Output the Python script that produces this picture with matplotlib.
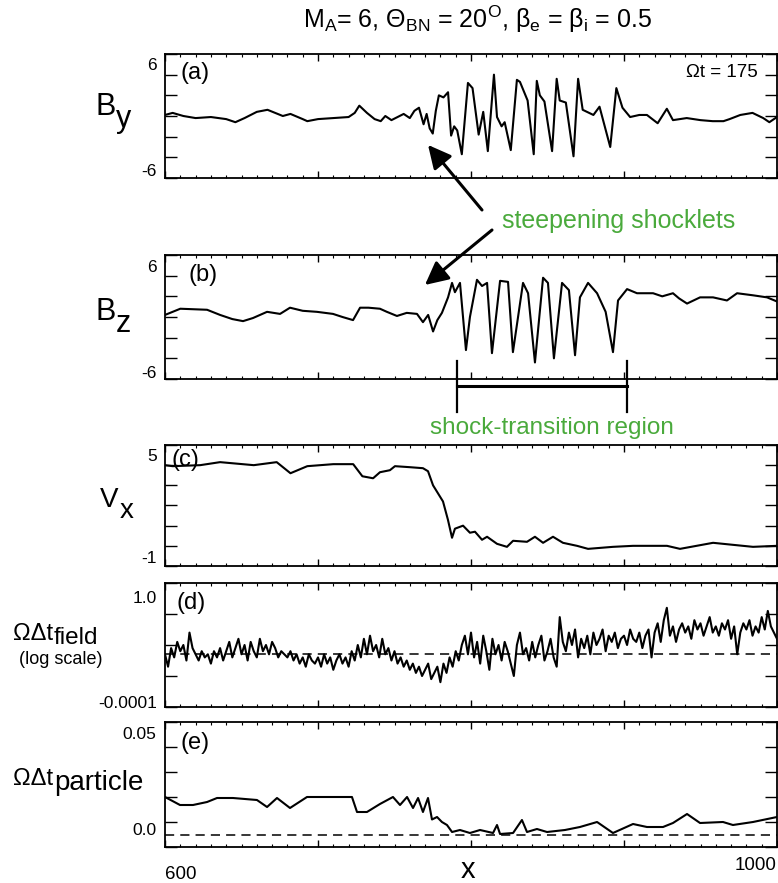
import numpy as np
import matplotlib
matplotlib.use('Agg')
import matplotlib.pyplot as plt
import matplotlib.transforms as mtransforms
from matplotlib.ticker import MultipleLocator, NullLocator
from matplotlib.text import Annotation

plt.rcParams['font.family'] = ['Liberation Sans', 'DejaVu Sans']
plt.rcParams['mathtext.fontset'] = 'custom'
plt.rcParams['mathtext.rm'] = 'Liberation Sans'
plt.rcParams['mathtext.it'] = 'Liberation Sans:italic'

# (a) By
by_x = [600, 605, 612, 620, 630, 640, 646, 652, 660, 667,
        672, 677, 682, 690, 693, 700, 710, 720, 724, 727,
        732, 737, 741, 744, 748, 752, 756, 760, 763, 766,
        769, 771, 773, 775, 777, 779, 782, 785, 787, 789,
        791, 794, 798, 801, 805, 808, 811, 815, 817, 820,
        822, 826, 830, 832, 837, 841, 843, 845, 848, 853,
        856, 858, 862, 867, 870, 873, 880, 884, 891, 895,
        899, 904, 910, 915, 922, 928, 932, 941, 950, 958,
        965, 969, 976, 984, 991, 995, 1000]
by_y = [0.1, 0.3, 0.0, -0.2, -0.1, -0.3, -0.6, -0.2, 0.4, 0.6,
        0.3, 0.0, 0.2, -0.3, -0.5, -0.3, -0.2, -0.1, 0.3, 1.0,
        0.3, -0.3, -0.5, 0.0, -0.4, -0.1, 0.2, -0.2, 0.5, 0.8,
        -0.8, 0.2, -1.2, -1.7, 0.5, 2.0, 1.8, 2.3, -1.9, -1.0,
        -1.4, -3.7, 3.2, 2.7, -1.8, 0.4, -3.4, 4.0, -0.1, -1.0,
        -0.6, -3.3, 3.5, 3.3, 1.5, -3.7, 3.4, 2.0, 1.4, -3.4,
        3.6, 1.5, 1.3, -3.9, 3.6, 0.6, 0.1, 0.9, -3.0, 2.7,
        0.8, -0.1, 0.1, 0.1, -0.7, 0.7, -0.4, -0.2, -0.4, -0.5,
        -0.5, -0.3, 0.1, 0.3, -0.2, -0.6, -0.1]

# (b) Bz
bz_x = [600, 610, 627.5, 636, 644, 651, 657.5, 666.7, 675.2, 681.7,
        690, 699.3, 709.8, 716, 722.9, 727.5, 733, 740.5, 745, 751.6,
        758, 764.7, 768.6, 772, 775.2, 778, 781, 785, 787.6, 789.5,
        792.8, 796.7, 799.3, 803.9, 807.2, 810.5, 813.7, 819, 824.2, 827.4,
        834, 837.3, 841.8, 847.1, 850.3, 854.2, 859.5, 864, 868, 871.2,
        876.5, 882.4, 888, 892.8, 896.1, 902, 908.5, 919, 925, 932,
        936, 941.2, 949.7, 958.2, 967.3, 973.9, 984.3, 993.5, 1000]
bz_y = [0.2, 0.8, 0.7, 0.2, -0.2, -0.4, -0.1, 0.5, 0.3, 0.9,
        0.6, 0.5, 0.3, 0.0, -0.3, 0.9, 0.9, 0.8, 0.5, 0.1,
        0.4, 0.3, -0.5, 0.2, -1.4, -0.3, 0.4, 1.9, 3.3, 2.4,
        3.3, -3.2, 0.0, 3.6, 3.0, 3.3, -3.5, 3.5, 3.4, -3.4,
        3.3, 2.3, -4.4, 3.8, 3.3, -4.0, 3.3, 2.6, -3.7, 1.9,
        3.3, 2.3, 0.5, -3.4, 1.6, 2.7, 2.3, 2.3, 2.0, 2.3,
        1.8, 1.3, 1.9, 1.9, 1.6, 2.3, 2.1, 1.9, 1.5]

# (c) Vx
vx_x = [600, 605, 623, 636, 658, 673, 682, 693, 710, 723,
        729, 736, 740.5, 747, 750.3, 760, 768.6, 771.9, 775.2, 781.7,
        784.9, 787.6, 789.5, 794.8, 799.3, 802.6, 807.2, 810.5, 817, 823.5,
        827.5, 836.6, 841.8, 847.1, 853.6, 860.1, 869.3, 876.5, 892.8, 905.9,
        928.1, 936.6, 958.2, 971.2, 984.3, 1000]
vx_y = [4.0, 3.95, 4.0, 4.15, 4.0, 4.15, 3.6, 3.95, 4.05, 4.05,
        3.45, 3.35, 3.65, 3.75, 3.95, 3.9, 3.85, 3.7, 3.0, 2.2,
        1.3, 0.4, 0.85, 1.0, 0.65, 0.7, 0.3, 0.45, 0.1, -0.05,
        0.25, 0.2, 0.45, 0.15, 0.45, 0.15, 0.0, -0.15, -0.05, 0.0,
        0.0, -0.15, 0.15, 0.05, -0.05, 0.0]

# (d) field time step, log10 values on a 2-unit grid from 600 to 1000
dtf_x = np.linspace(600, 1000, 201)
dtf_log10 = [
    -2.3, -2.7, -2.1, -2.4, -1.9, -2.2, -2.0, -2.5, -1.6, -2.1,
    -2.3, -2.5, -2.2, -2.4, -2.3, -2.6, -2.2, -2.4, -2.1, -2.5,
    -2.2, -1.9, -2.4, -2.1, -1.8, -2.3, -2.0, -2.5, -1.9, -2.2,
    -2.4, -1.8, -2.2, -2.0, -2.3, -1.9, -2.1, -2.4, -2.2, -2.3,
    -2.4, -2.2, -2.5, -2.3, -2.6, -2.4, -2.7, -2.3, -2.5, -2.6,
    -2.4, -2.7, -2.3, -2.6, -2.4, -2.8, -2.5, -2.3, -2.6, -2.4,
    -2.7, -2.2, -2.5, -2.0, -2.4, -1.8, -2.3, -1.7, -2.2, -2.0,
    -2.4, -1.8, -2.3, -2.1, -2.5, -2.2, -2.6, -2.4, -2.7, -2.5,
    -2.8, -2.6, -2.9, -2.7, -3.0, -2.8, -2.6, -3.1, -2.9, -2.7,
    -3.2, -2.6, -2.9, -2.4, -2.7, -2.2, -2.5, -2.0, -1.7, -2.3,
    -1.6, -2.4, -1.9, -2.6, -1.7, -2.2, -2.8, -1.8, -2.3, -2.0,
    -2.5, -1.9, -2.2, -2.6, -3.0, -2.0, -1.6, -2.3, -2.1, -2.5,
    -1.9, -2.4, -2.0, -1.7, -2.5, -2.2, -1.8, -2.4, -2.7, -1.1,
    -1.9, -2.2, -1.6, -2.0, -1.5, -2.4, -1.8, -2.1, -1.7, -2.3,
    -1.6, -2.0, -1.8, -1.5, -2.2, -1.7, -1.9, -1.6, -2.1, -1.8,
    -1.7, -2.0, -1.5, -1.8, -1.9, -1.6, -2.1, -1.7, -1.5, -2.4,
    -1.6, -1.3, -1.9, -1.2, -0.8, -1.7, -1.4, -1.9, -1.5, -1.3,
    -1.6, -1.4, -1.8, -1.2, -1.5, -1.3, -1.7, -1.4, -1.1, -1.6,
    -1.4, -1.7, -1.3, -1.5, -1.2, -1.8, -1.4, -2.3, -1.6, -1.3,
    -1.5, -1.2, -1.7, -1.4, -1.6, -1.1, -1.5, -0.9, -1.4, -1.6,
    -1.8]
dtf_ref = 0.005

# (e) particle time step
dtp_x = [600, 609.8, 618.3, 627.5, 634, 644.4, 660.1, 666.7, 673.2, 681.7,
         692.8, 709.8, 722.2, 725.5, 732, 740.5, 749, 753.6, 758.2, 762.1,
         765.4, 768.6, 771.9, 774.5, 777.8, 781, 784.3, 787.6, 792.8, 799.3,
         805.9, 814.4, 817, 819, 827.5, 833.3, 836.6, 843.1, 849.7, 861.4,
         871.2, 882.4, 892.8, 905.9, 915, 925.5, 932, 941.2, 949.7, 964.7,
         971.2, 984.3, 1000]
dtp_y = [0.020, 0.0168, 0.0168, 0.018, 0.0196, 0.0196, 0.0188, 0.016, 0.0196, 0.0156,
         0.020, 0.020, 0.020, 0.014, 0.014, 0.0172, 0.020, 0.0168, 0.020, 0.0156,
         0.0196, 0.014, 0.0196, 0.011, 0.012, 0.010, 0.0088, 0.006, 0.0068, 0.0056,
         0.0068, 0.0056, 0.0088, 0.0052, 0.0056, 0.0108, 0.006, 0.0072, 0.006, 0.0068,
         0.008, 0.010, 0.0056, 0.0092, 0.008, 0.008, 0.0096, 0.0132, 0.0096, 0.010,
         0.0088, 0.010, 0.012]
dtp_ref = 0.005

W, H = 778, 883
green = '#4aaa3c'


def fx(px):
    return px / W


def fy(py):
    return 1 - py / H


fig = plt.figure(figsize=(7.78, 8.83), dpi=100)


def shift(label, dx, dy):
    # dx, dy in pixels
    label.set_transform(label.get_transform() +
                        mtransforms.ScaledTranslation(dx / 100, dy / 100, fig.dpi_scale_trans))


def make_axes(top, bottom, yticks, top_lab, bot_lab, top_dy, bot_dy, log=False):
    ax = fig.add_axes([fx(165), fy(bottom), fx(777) - fx(165), (bottom - top) / H])
    if log:
        ax.set_yscale('log')
    ax.set_xlim(600, 1000)
    ax.set_ylim(yticks[0], yticks[-1])
    ax.set_xticks([600, 700, 800, 900, 1000], [''] * 5)
    ax.xaxis.set_minor_locator(MultipleLocator(10))
    labels = [bot_lab] + [''] * (len(yticks) - 2) + [top_lab]
    ax.set_yticks(yticks, labels)
    ax.yaxis.set_minor_locator(NullLocator())
    ax.tick_params(axis='x', which='major', direction='in', top=True, bottom=True,
                   length=5, width=1, pad=0, labelsize=13.5)
    ax.tick_params(axis='x', which='minor', direction='in', top=True, bottom=True,
                   length=2.5, width=0.8)
    ax.tick_params(axis='y', which='major', direction='in', left=True, right=True,
                   length=8.5, width=1, pad=6, labelsize=12.5)
    for s in ax.spines.values():
        s.set_linewidth(1.3)
    ticks = ax.yaxis.get_major_ticks()
    ticks[0].label1.set_va('baseline')
    ticks[-1].label1.set_va('baseline')
    shift(ticks[-1].label1, 0, top_dy)
    shift(ticks[0].label1, 0, bot_dy)
    return ax


def sublabel(px, py, base, sub, size, drop, subsize=None):
    t = fig.text(fx(px), fy(py), base, fontsize=size, ha='left', va='baseline')
    a = Annotation(sub, xy=(1, 0), xycoords=t, xytext=(0.5, -drop),
                   textcoords='offset points', fontsize=subsize or size,
                   ha='left', va='bottom')
    fig.add_artist(a)


ax_a = make_axes(54, 178, np.arange(-6, 7, 2), '6', '-6', -16, 2)
ax_b = make_axes(255, 379, np.arange(-6, 7, 2), '6', '-6', -17, 1)
ax_c = make_axes(445, 566, np.arange(-1, 6, 1), '5', '-1', -16, 3)
ax_d = make_axes(583, 707, [1e-4, 1e-3, 1e-2, 1e-1, 1.0], '1.0', '-0.0001', -20, -1, log=True)
ax_e = make_axes(722, 847, [0.0, 0.01, 0.02, 0.03, 0.04, 0.05], '0.05', '0.0', -17, 12)

lw = 1.5
ax_a.plot(by_x, by_y, color='k', lw=lw)
ax_b.plot(bz_x, bz_y, color='k', lw=lw)
ax_c.plot(vx_x, vx_y, color='k', lw=lw)
ax_d.axhline(dtf_ref, color='k', lw=1.1, ls=(0, (6, 4)))
ax_d.plot(dtf_x, 10.0 ** np.array(dtf_log10), color='k', lw=lw)
ax_e.axhline(dtp_ref, color='k', lw=1.1, ls=(0, (6, 4)))
ax_e.plot(dtp_x, dtp_y, color='k', lw=lw)

# x tick labels only on the bottom panel
ax_e.set_xticklabels(['600', '', '', '', '1000'])
xt = ax_e.xaxis.get_major_ticks()
xt[0].label1.set_ha('left')
xt[0].label1.set_va('baseline')
shift(xt[0].label1, 0, -32)
xt[-1].label1.set_ha('right')
xt[-1].label1.set_va('baseline')
shift(xt[-1].label1, 0, -23)
ax_e.text(0.495, -0.248, 'x', transform=ax_e.transAxes, fontsize=21,
          ha='center', va='baseline')

for ax, lab, xf, yf in [(ax_a, '(a)', 0.026, 0.847), (ax_b, '(b)', 0.038, 0.839),
                        (ax_c, '(c)', 0.011, 0.876), (ax_d, '(d)', 0.018, 0.839),
                        (ax_e, '(e)', 0.026, 0.832)]:
    ax.text(xf, yf, lab, transform=ax.transAxes, fontsize=17, ha='left', va='center')

ax_a.text(0.969, 0.815, 'Ωt = 175', transform=ax_a.transAxes, fontsize=13.5,
          ha='right', va='baseline')

fig.text(fx(478), fy(28),
         r'M$_\mathregular{A}$= 6, Θ$_\mathregular{BN}$ = 20$^\mathregular{O}$, '
         r'β$_\mathregular{e}$ = β$_\mathregular{i}$ = 0.5',
         fontsize=18, ha='center', va='baseline')

sublabel(95, 115, 'B', 'y', 22, 8.5)
sublabel(95, 320, 'B', 'z', 22, 8.5)
sublabel(100, 507, 'V', 'x', 20, 8)
sublabel(13, 640, 'ΩΔt', 'field', 17, 3, 17.5)
fig.text(fx(61), fy(659), '(log scale)', fontsize=13, ha='center', va='center')
sublabel(13, 785, 'ΩΔt', 'particle', 17, 4, 20)

# annotations
fig.text(fx(502), fy(228), 'steepening shocklets', color=green, fontsize=18,
         ha='left', va='baseline')
arrow = dict(arrowstyle='-|>,head_length=0.7,head_width=0.35', mutation_scale=20,
             lw=2.2, color='k', shrinkA=0, shrinkB=0)
ax_a.annotate('', xy=(771.9, -2.8), xycoords='data',
              xytext=(fx(482), fy(210)), textcoords='figure fraction', arrowprops=arrow)
ax_b.annotate('', xy=(769.9, 3.1), xycoords='data',
              xytext=(fx(492), fy(230)), textcoords='figure fraction', arrowprops=arrow)

trans_b = mtransforms.blended_transform_factory(ax_b.transData, ax_b.transAxes)
bracket_x = [791, 902]
ax_b.plot(bracket_x, [-0.056, -0.056], transform=trans_b, color='k', lw=2.2, clip_on=False)
for bx in bracket_x:
    ax_b.plot([bx, bx], [0.145, -0.266], transform=trans_b, color='k', lw=1.6, clip_on=False)
fig.text(fx(552), fy(434), 'shock-transition region', color=green, fontsize=17.5,
         ha='center', va='baseline')

fig.savefig('out.png', dpi=100)
